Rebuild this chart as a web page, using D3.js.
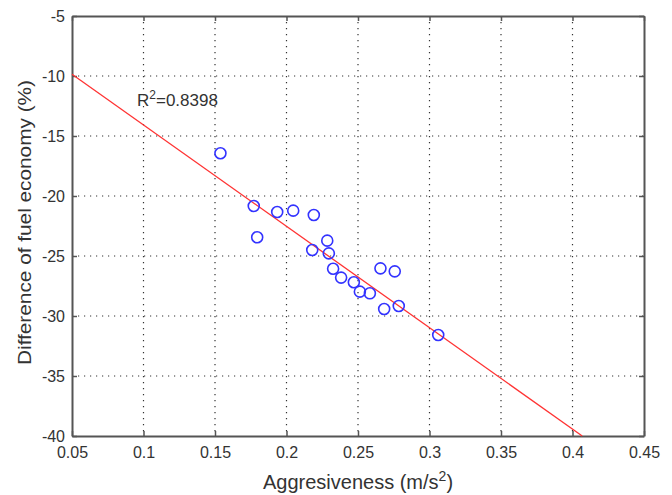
<!DOCTYPE html>
<html>
<head>
<meta charset="utf-8">
<script src="https://cdn.jsdelivr.net/npm/d3@7"></script>
<style>
  body { margin: 0; background: #fff; }
  svg { display: block; font-family: "Liberation Sans", Arial, sans-serif; }
  .tick text { fill: #333; font-size: 16px; }
</style>
</head>
<body>
<div id="chart"></div>
<script>
// Data
const aggressiveness = [0.1538, 0.1771, 0.1935, 0.2047, 0.2191, 0.1795, 0.2180, 0.2285, 0.2296,
  0.2326, 0.2382, 0.2471, 0.2513, 0.2583, 0.2657, 0.2757, 0.2683, 0.2785, 0.3061];
const fuelDiff = [-16.44, -20.83, -21.33, -21.22, -21.58, -23.44, -24.5, -23.72, -24.78,
  -26.06, -26.8, -27.19, -27.97, -28.11, -26.03, -26.28, -29.42, -29.17, -31.58];
// fitted line end points
const fitX = [0.05, 0.4068];
const fitY = [-9.85, -40];
const xTicks = [0.05, 0.1, 0.15, 0.2, 0.25, 0.3, 0.35, 0.4, 0.45];
const yTicks = [-5, -10, -15, -20, -25, -30, -35, -40];
const rSquared = "0.8398";

const width = 672, height = 495;
const margin = { top: 16, right: 28, bottom: 59, left: 72 };

const svg = d3.select("#chart").append("svg")
  .attr("width", width).attr("height", height);

const x = d3.scaleLinear().domain([0.05, 0.45]).range([margin.left, width - margin.right]);
const y = d3.scaleLinear().domain([-40, -5]).range([height - margin.bottom, margin.top]);

const plotLeft = margin.left, plotRight = width - margin.right;
const plotTop = margin.top, plotBottom = height - margin.bottom;

// dotted grid
const grid = svg.append("g").attr("stroke", "#333").attr("stroke-width", 1.2)
  .attr("stroke-dasharray", "1.2,4.8");
grid.selectAll("line.v").data(xTicks.slice(1, -1)).join("line")
  .attr("x1", d => x(d)).attr("x2", d => x(d)).attr("y1", plotTop).attr("y2", plotBottom);
grid.selectAll("line.h").data(yTicks.slice(1, -1)).join("line")
  .attr("y1", d => y(d)).attr("y2", d => y(d)).attr("x1", plotLeft).attr("x2", plotRight);

// axes, MATLAB style: ticks point inward on all four sides
const fmt = d => String(+d.toFixed(2));
svg.append("g").attr("transform", `translate(0,${plotBottom})`)
  .call(d3.axisBottom(x).tickValues(xTicks).tickSizeInner(-5).tickSizeOuter(0).tickPadding(11).tickFormat(fmt));
svg.append("g").attr("transform", `translate(${plotLeft},0)`)
  .call(d3.axisLeft(y).tickValues(yTicks).tickSizeInner(-5).tickSizeOuter(0).tickPadding(7).tickFormat(d => String(d)));
svg.append("g").attr("transform", `translate(0,${plotTop})`)
  .call(d3.axisTop(x).tickValues(xTicks).tickSizeInner(-5).tickSizeOuter(0).tickFormat(""));
svg.append("g").attr("transform", `translate(${plotRight},0)`)
  .call(d3.axisRight(y).tickValues(yTicks).tickSizeInner(-5).tickSizeOuter(0).tickFormat(""));

svg.selectAll(".domain, .tick line").attr("stroke", "#555").attr("stroke-width", 1.5);
svg.selectAll(".domain").attr("stroke-width", 2);

// regression line
svg.append("line")
  .attr("x1", x(fitX[0])).attr("y1", y(fitY[0]))
  .attr("x2", x(fitX[1])).attr("y2", y(fitY[1]))
  .attr("stroke", "#f33").attr("stroke-width", 1.3);

// points
svg.append("g").selectAll("circle")
  .data(aggressiveness.map((v, i) => [v, fuelDiff[i]]))
  .join("circle")
  .attr("cx", d => x(d[0])).attr("cy", d => y(d[1]))
  .attr("r", 5.5)
  .attr("fill", "none").attr("stroke", "#3333ff").attr("stroke-width", 1.6);

// R^2 annotation
const r2 = svg.append("text").attr("x", 137).attr("y", 106)
  .attr("font-size", 17).attr("fill", "#333");
r2.append("tspan").text("R");
r2.append("tspan").attr("dy", -7).attr("font-size", 12).text("2");
r2.append("tspan").attr("dy", 7).text("=" + rSquared);

// axis titles
const xl = svg.append("text").attr("x", (plotLeft + plotRight) / 2).attr("y", 489)
  .attr("text-anchor", "middle").attr("font-size", 20).attr("fill", "#333");
xl.append("tspan").text("Aggresiveness (m/s");
xl.append("tspan").attr("dy", -8).attr("font-size", 14).text("2");
xl.append("tspan").attr("dy", 8).text(")");

svg.append("text")
  .attr("transform", `translate(31,${(80 + 365) / 2}) rotate(-90)`)
  .attr("text-anchor", "middle").attr("font-size", 18).attr("fill", "#333")
  .attr("textLength", 285).attr("lengthAdjust", "spacingAndGlyphs")
  .text("Difference of fuel economy (%)");
</script>
</body>
</html>
